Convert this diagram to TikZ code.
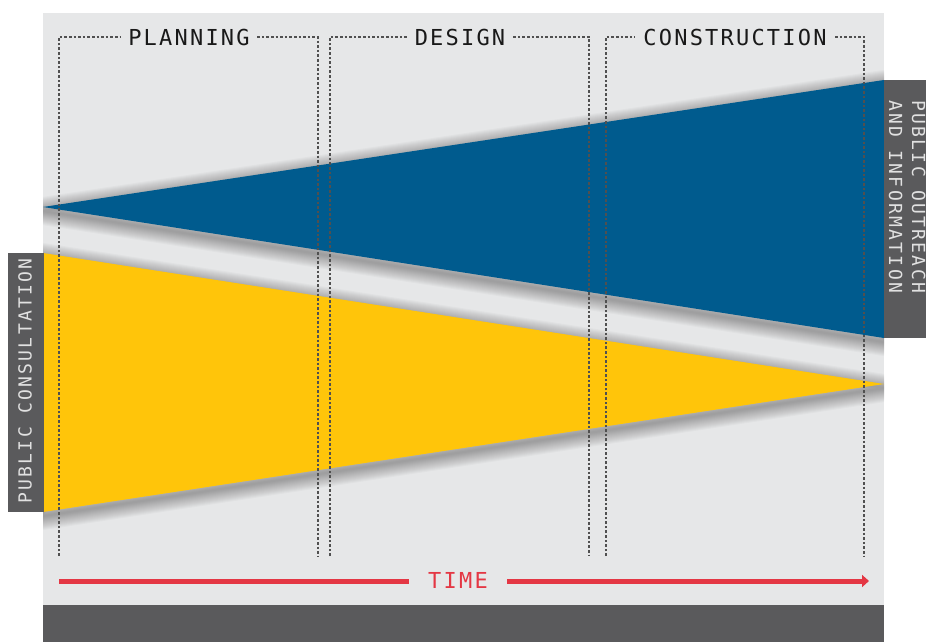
\documentclass[tikz,border=0pt]{standalone}
\usepackage{fontspec}
\usetikzlibrary{arrows.meta}
\newfontfamily\phasefont[LetterSpace=10]{DejaVu Sans Mono}
\newfontfamily\labelfont[LetterSpace=13]{DejaVu Sans Mono}
\definecolor{bgGray}{RGB}{230,231,232}
\definecolor{darkGray}{RGB}{90,90,92}
\definecolor{triBlue}{RGB}{0,91,142}
\definecolor{triYellow}{RGB}{255,197,10}
\definecolor{timeRed}{RGB}{228,55,68}
\definecolor{dashGray}{RGB}{80,80,80}
\definecolor{labelText}{RGB}{225,225,225}
\definecolor{phaseText}{RGB}{25,25,25}
\tikzset{
  phaseline/.style={draw=dashGray,line width=1.3pt,dash pattern=on 2.6pt off 2pt},
  phaselabel/.style={font=\phasefont\fontsize{22}{24}\selectfont,text=phaseText,inner sep=0pt,minimum width=0pt},
  sidelabel/.style={font=\labelfont\fontsize{18}{20}\selectfont,text=labelText,inner sep=0pt},
  timeline/.style={draw=timeRed,line width=5pt},
  softshadow/.style={draw=black,opacity=0.022,line join=round,line width=#1}
}
\begin{document}
\begin{tikzpicture}[x=1pt,y=-1pt]
\useasboundingbox (0,0) rectangle (926,642);
% background
\fill[bgGray] (43,13) rectangle (884,642);
\fill[darkGray] (43,605) rectangle (884,642);
% soft shadows of the triangles
\begin{scope}
\clip (43,13) rectangle (884,605);
\foreach \w in {28,26,24,22,20,18,16,14,12,10,8,6,4,2} {
  \path[softshadow=\w pt] (43,211) -- (884,84) -- (884,342) -- cycle;
  \path[softshadow=\w pt] (43,257) -- (884,388) -- (43,516) -- cycle;
}
\end{scope}
% triangles
\fill[triBlue] (43,207) -- (884,80) -- (884,338) -- cycle;
\fill[triYellow] (43,253) -- (884,384) -- (43,512) -- cycle;
% side label boxes
\fill[darkGray] (884,80) rectangle (926,338);
\fill[darkGray] (8,253) rectangle (44,512);
\node[sidelabel,rotate=90] (consult) at (25,381) {PUBLIC CONSULTATION};
\node[sidelabel,rotate=-90,anchor=base west] (outreach1) at (912,100) {PUBLIC OUTREACH};
\node[sidelabel,rotate=-90,anchor=base west] (outreach2) at (889,100) {AND INFORMATION};
% phase frames
\node[phaselabel,minimum width=136pt] (plan) at (189,37) {PLANNING};
\node[phaselabel,minimum width=106pt] (design) at (460,37) {DESIGN};
\node[phaselabel,minimum width=200pt] (constr) at (735,37) {CONSTRUCTION};
\coordinate (pl1) at (59,556);  \coordinate (pl2) at (59,37);
\coordinate (pr1) at (318,556); \coordinate (pr2) at (318,37);
\coordinate (dl1) at (330,556); \coordinate (dl2) at (330,37);
\coordinate (dr1) at (589,556); \coordinate (dr2) at (589,37);
\coordinate (cl1) at (606,556); \coordinate (cl2) at (606,37);
\coordinate (cr1) at (864,556); \coordinate (cr2) at (864,37);
\draw[phaseline] (pl1) -- (pl2) -- (plan.west);
\draw[phaseline] (plan.east) -- (pr2) -- (pr1);
\draw[phaseline] (dl1) -- (dl2) -- (design.west);
\draw[phaseline] (design.east) -- (dr2) -- (dr1);
\draw[phaseline] (cl1) -- (cl2) -- (constr.west);
\draw[phaseline] (constr.east) -- (cr2) -- (cr1);
% time arrow
\node[phaselabel,text=timeRed,minimum width=98pt] (time) at (458,580) {TIME};
\coordinate (ts) at (59,581);
\coordinate (te) at (869,581);
\draw[timeline] (ts) -- (time.west |- ts);
\draw[timeline,-{Triangle[length=7pt,width=12pt]}] (time.east |- te) -- (te);
\end{tikzpicture}
\end{document}
